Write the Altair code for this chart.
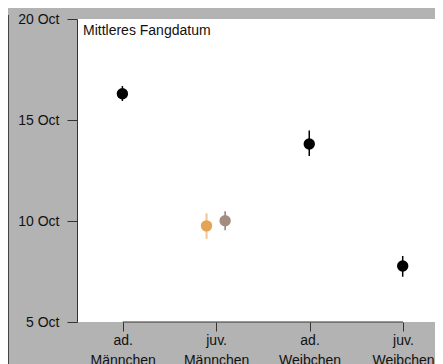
import altair as alt
import pandas as pd

# data (day of October)
categories = ["ad. Männchen", "juv. Männchen", "juv. Männchen", "ad. Weibchen", "juv. Weibchen"]
groups = ["none", "a", "b", "none", "none"]
mean_day = [16.30, 9.76, 10.01, 13.81, 7.77]
low_day = [15.94, 9.12, 9.54, 13.22, 7.24]
high_day = [16.68, 10.38, 10.48, 14.48, 8.27]
point_colors = ["#000000", "#e4a455", "#a48d80", "#000000", "#000000"]
bar_colors = ["#000000", "#f6c795", "#6e625b", "#000000", "#000000"]
bar_widths = [1.5, 2.2, 1.2, 1.5, 1.5]
cat_order = ["ad. Männchen", "juv. Männchen", "ad. Weibchen", "juv. Weibchen"]
y_ticks = [5, 10, 15, 20]

df = pd.DataFrame({
    "cat": categories, "grp": groups, "mean": mean_day, "lo": low_day, "hi": high_day,
    "pc": point_colors, "bc": bar_colors, "bw": bar_widths,
})

FONT = "Liberation Sans"

xscale = alt.Scale(type="point", domain=cat_order, padding=0.4158, align=0.588)
yscale = alt.Scale(domain=[5, 20], nice=False, zero=False)
off = alt.XOffset("grp:N", scale=alt.Scale(domain=["a", "none", "b"], range=[-14.25, 13.65]))

base = alt.Chart(df)

xaxis = alt.Axis(title=None, domain=False, tickSize=9, tickColor="#333333", labelFont=FONT,
                 labelFontSize=14, labelColor="#111111", labelAngle=0, labelAlign="center",
                 labelBaseline="top", labelPadding=2, labelFlush=False,
                 labelLineHeight=20, labelExpr="split(datum.label, ' ')", grid=False)
yaxis = alt.Axis(title=None, values=y_ticks, labelExpr="datum.value + ' Oct'", tickSize=10,
                 tickColor="#333333", domainColor="#333333", labelFont=FONT, labelFontSize=14,
                 labelColor="#111111", labelPadding=8, grid=False)

bars = base.mark_rule().encode(
    x=alt.X("cat:N", scale=xscale, axis=xaxis),
    xOffset=off,
    y=alt.Y("lo:Q", scale=yscale, axis=yaxis),
    y2="hi:Q",
    color=alt.Color("bc:N", scale=None),
    strokeWidth=alt.StrokeWidth("bw:Q", scale=None),
)

points = base.mark_circle(size=130, opacity=1).encode(
    x=alt.X("cat:N", scale=xscale),
    xOffset=off,
    y=alt.Y("mean:Q", scale=yscale),
    color=alt.Color("pc:N", scale=None),
)

xdomain = alt.Chart(pd.DataFrame({"a": [cat_order[0]], "b": [cat_order[-1]]})).mark_rule(
    color="#333333", strokeWidth=1
).encode(
    x=alt.X("a:N", scale=xscale),
    x2="b:N",
    y=alt.value(303),
)

title = alt.Chart(pd.DataFrame({"t": ["Mittleres Fangdatum"]})).mark_text(
    align="left", baseline="alphabetic", font=FONT, fontSize=14, color="#111111"
).encode(x=alt.value(6), y=alt.value(16), text="t:N")

border = alt.Chart(pd.DataFrame({"v": [0]})).mark_rule(color="#444444", strokeWidth=1).encode(
    x=alt.value(-68.5), y=alt.value(-4), y2=alt.value(345)
)

chart = alt.layer(border, xdomain, bars, points, title).properties(
    width=358,
    height=303,
    padding={"left": 69, "top": 11, "right": 0, "bottom": 42},
    autosize=alt.AutoSizeParams(type="none"),
    background="#b3b3b3",
).configure_view(fill="white", stroke=None)

chart.save("out.html", embed_options={"renderer": "svg", "actions": False})
